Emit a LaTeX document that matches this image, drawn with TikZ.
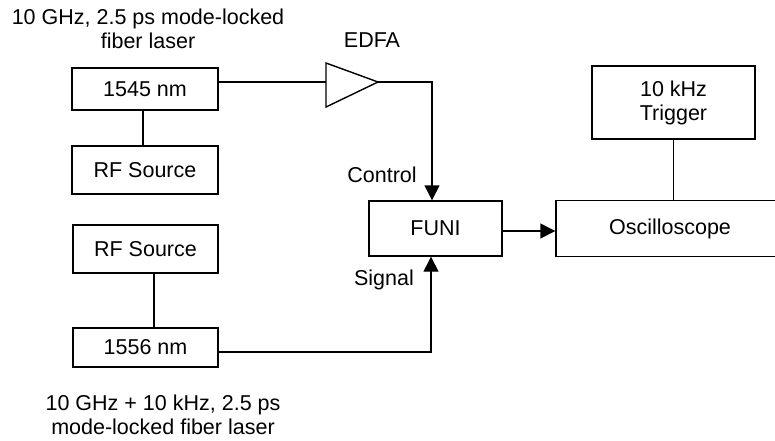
\documentclass[tikz,border=0pt]{standalone}
\usepackage{fontspec}
\setmainfont{Liberation Sans}
\usetikzlibrary{arrows.meta}
\begin{document}
\begin{tikzpicture}[x=1pt,y=-1pt,
  every node/.style={font=\fontsize{21.5}{24}\selectfont},
  blk/.style={draw,line width=1.4pt,inner sep=0pt,align=center},
  lbl/.style={inner sep=0pt,align=center},
  wire/.style={line width=1.4pt},
  arr/.style={line width=1.4pt,-{Triangle[length=15pt,width=15pt]}}]
\useasboundingbox (0,0) rectangle (775,440);
% boxes
\node[blk,minimum width=146pt,minimum height=42pt] (l1545) at (145,89) {1545 nm};
\node[blk,minimum width=146pt,minimum height=48pt] (rf1) at (145,170) {RF Source};
\node[blk,minimum width=145pt,minimum height=48pt] (rf2) at (145.5,249) {RF Source};
\node[blk,minimum width=145pt,minimum height=39pt] (l1556) at (145.5,347.5) {1556 nm};
\node[blk,minimum width=133pt,minimum height=55pt] (funi) at (435.5,228.5) {FUNI};
\node[blk,minimum width=228pt,minimum height=56pt] (osc) at (670,228.5) {Oscilloscope};
\node[blk,minimum width=163pt,minimum height=73pt] (trig) at (673.5,102.5) {10 kHz\\Trigger};
% EDFA amplifier
\coordinate (edfain) at (326,82);
\coordinate (edfaout) at (378,82);
\draw[wire,line join=miter] (326,63) -- (edfaout) -- (326,107) -- cycle;
% labels
\node[lbl] (toplbl) at (148,29) {10 GHz, 2.5 ps mode-locked\\fiber laser};
\node[lbl,anchor=base] (edfalbl) at (372,47) {EDFA};
\node[lbl,anchor=base] (ctrllbl) at (382,182) {Control};
\node[lbl,anchor=base] (siglbl) at (384,285) {Signal};
\node[lbl] (botlbl) at (163,415) {10 GHz + 10 kHz, 2.5 ps\\mode-locked fiber laser};
% connectors
\draw[wire] ([xshift=-2pt]l1545.south) -- ([xshift=-2pt]rf1.north);
\draw[wire] ([xshift=8.5pt]rf2.south) -- ([xshift=8.5pt]l1556.north);
\draw[wire] ([yshift=7pt]l1545.east) -- (edfain);
\draw[arr] (edfaout) -| ([xshift=-3.5pt]funi.north);
\draw[arr] ([yshift=-4.5pt]l1556.east) -| ([xshift=-4.5pt]funi.south);
\draw[arr] ([yshift=-2.5pt]funi.east) -- ([yshift=-2.5pt]funi.east -| osc.west);
\draw[wire] (trig.south) -- (trig.south |- osc.north);
\end{tikzpicture}
\end{document}
